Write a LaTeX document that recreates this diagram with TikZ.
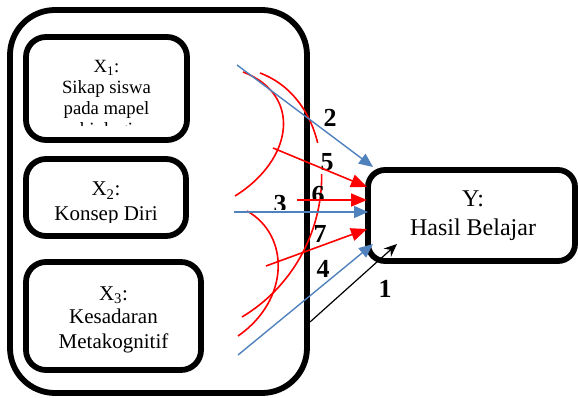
\documentclass[tikz,border=0pt]{standalone}
\usepackage{fontspec}
\setmainfont{Liberation Serif}
\usetikzlibrary{arrows.meta}
\definecolor{linkblue}{HTML}{4F81BD}
\definecolor{linkred}{HTML}{FF0000}

\begin{document}
\begin{tikzpicture}[x=1pt,y=-1pt,
  frame/.style={draw=black, line width=5.8pt, rounded corners=#1,
    inner sep=0pt, outer sep=0pt},
  varbox/.style={frame=20pt},
  caption/.style={anchor=base, inner sep=0pt, align=center},
  pathnum/.style={anchor=base, inner sep=0pt, font=\fontsize{26}{26}\selectfont\bfseries},
  corr/.style={draw=linkred, line width=1.6pt},
  redarrow/.style={draw=linkred, line width=1.6pt, -{Triangle[length=16pt,width=13pt]}},
  bluearrow/.style={draw=linkblue, line width=1.4pt, -{Triangle[length=14pt,width=12pt]}},
  blackarrow/.style={draw=black, line width=1.2pt, -{Stealth[length=13pt,width=11pt]}}]
\useasboundingbox (0,0) rectangle (578,398);

% group frame and the three predictors
\node[frame=45pt, minimum width=297pt, minimum height=383pt] (outer) at (158.5,201.5) {};
\node[varbox, minimum width=161pt, minimum height=103pt] (x1) at (106.5,88.5) {};
\node[varbox, minimum width=160pt, minimum height=77pt] (x2) at (106,197.5) {};
\node[varbox, minimum width=175pt, minimum height=108pt] (x3) at (113.5,316) {};

% predictor labels (text clipped to the box interiors)
\begin{scope}
  \clip (30,41) rectangle (183,126);
  \begin{scope}[font=\fontsize{18.7}{21}\selectfont]
    \node[caption] (x1a) at (106.5,73) {X\textsubscript{1}:};
    \node[caption] (x1b) at (106.5,94) {Sikap siswa};
    \node[caption] (x1c) at (106.5,115) {pada mapel};
    \node[caption] (x1d) at (106.5,136) {biologi};
  \end{scope}
\end{scope}
\begin{scope}
  \clip (30,163) rectangle (182,222);
  \begin{scope}[font=\fontsize{21}{24}\selectfont]
    \node[caption] (x2a) at (106,196) {X\textsubscript{2}:};
    \node[caption] (x2b) at (106,220) {Konsep Diri};
  \end{scope}
\end{scope}
\begin{scope}[font=\fontsize{21}{24}\selectfont]
  \node[caption] (x3a) at (113.5,300) {X\textsubscript{3}:};
  \node[caption] (x3b) at (113.5,323) {Kesadaran};
  \node[caption] (x3c) at (113.5,348) {Metakognitif};
\end{scope}

% outcome
\node[frame=17pt, minimum width=207pt, minimum height=91pt] (yb) at (471.5,215.5) {};
\begin{scope}[font=\fontsize{24}{29}\selectfont]
  \node[caption] (ya) at (473,207) {Y:};
  \node[caption] (yc) at (473,236) {Hasil Belajar};
\end{scope}

% correlation arcs between predictors
\coordinate (a1s) at (243,72);  \coordinate (a1e) at (235,196);
\coordinate (a2s) at (260,73);  \coordinate (a2e) at (242,317);
\coordinate (a3s) at (247,211); \coordinate (a3e) at (238,336);
\draw[corr] (a1s) .. controls (303,95) and (293,160) .. (a1e);
\draw[corr] (a2s) .. controls (345,105) and (345,255) .. (a2e);
\draw[corr] (a3s) .. controls (290,235) and (290,300) .. (a3e);

% path numbers
\fill[white] (313,143) rectangle (341,174);
\node[pathnum] (n2) at (330,127) {2};
\node[pathnum] (n5) at (327,171) {5};
\begin{scope}
  \clip (300,180) rectangle (340,200.5);
  \node[pathnum] (n6) at (318,204) {6};
\end{scope}
\begin{scope}
  \clip (260,185) rectangle (300,210);
  \node[pathnum] (n3) at (280,212) {3};
\end{scope}
\node[pathnum] (n7) at (320,242) {7};
\node[pathnum] (n4) at (323,277) {4};
\node[pathnum] (n1) at (385,297) {1};

% direct paths into Y
\coordinate (b2s) at (237,65);  \coordinate (b2e) at (373,167);
\coordinate (b3s) at (234,212); \coordinate (b3e) at (368,212);
\coordinate (b4s) at (238,355); \coordinate (b4e) at (373,244);
\coordinate (r5s) at (273,148); \coordinate (r5e) at (367,187);
\coordinate (r6s) at (297,200); \coordinate (r6e) at (367,200);
\coordinate (r7s) at (266,266); \coordinate (r7e) at (367,229);
\coordinate (k1s) at (310,322); \coordinate (k1e) at (397,244);

\draw[redarrow] (r5s) -- (r5e);
\draw[redarrow] (r6s) -- (r6e);
\draw[redarrow] (r7s) -- (r7e);
\draw[bluearrow] (b2s) -- (b2e);
\draw[bluearrow] (b3s) -- (b3e);
\draw[bluearrow] (b4s) -- (b4e);
\draw[blackarrow] (k1s) -- (k1e);
\end{tikzpicture}
\end{document}
